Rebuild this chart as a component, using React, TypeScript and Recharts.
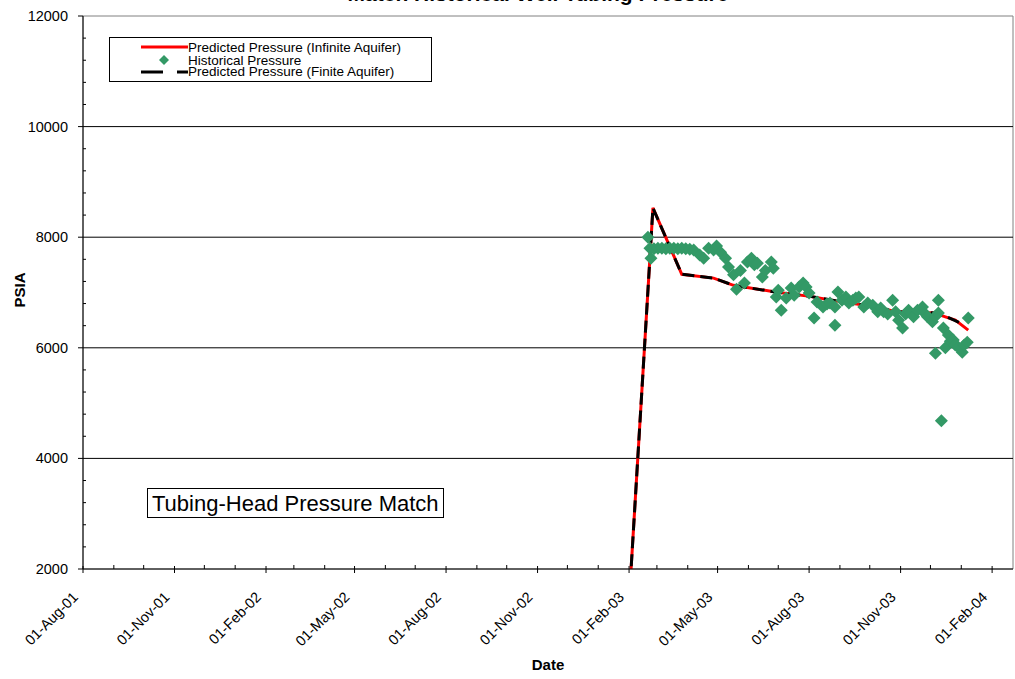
import React from "react";
import {
  ComposedChart,
  Line,
  Scatter,
  XAxis,
  YAxis,
  ReferenceLine,
  ReferenceArea,
} from "recharts";

// day offsets are counted from the axis start, 01-Aug-01
const START = Date.UTC(2001, 7, 1);
const toDay = (d: string) => (Date.parse(d) - START) / 86400000;

const xTickDates = [
  "2001-08-01", "2001-11-01", "2002-02-01", "2002-05-01", "2002-08-01", "2002-11-01",
  "2003-02-01", "2003-05-01", "2003-08-01", "2003-11-01", "2004-02-01",
];
const xTickLabels = [
  "01-Aug-01", "01-Nov-01", "01-Feb-02", "01-May-02", "01-Aug-02", "01-Nov-02",
  "01-Feb-03", "01-May-03", "01-Aug-03", "01-Nov-03", "01-Feb-04",
];
const xEndDate = "2004-02-22";
const yMajorTicks = [2000, 4000, 6000, 8000, 10000, 12000];
const yGridLines = [4000, 6000, 8000, 10000];

const infiniteDates = [
  "2003-02-01", "2003-02-25", "2003-03-26", "2003-04-27", "2003-05-17", "2003-06-28",
  "2003-08-02", "2003-08-24", "2003-10-06", "2003-10-29", "2003-12-05", "2003-12-16",
  "2003-12-26", "2004-01-08",
];
const infinitePsia = [1400, 8530, 7330, 7260, 7130, 7010, 6930, 6860, 6740, 6650, 6630, 6560, 6500, 6320];

const finiteDates = [
  "2003-02-01", "2003-02-25", "2003-03-26", "2003-04-27", "2003-05-17", "2003-06-28",
  "2003-08-02", "2003-08-24", "2003-10-06", "2003-10-29", "2003-12-05", "2003-12-16",
  "2003-12-31",
];
const finitePsia = [1400, 8530, 7330, 7260, 7130, 7010, 6930, 6860, 6740, 6650, 6630, 6570, 6450];

const histDates = [
  "2003-02-20", "2003-02-23", "2003-02-22", "2003-02-26", "2003-03-02", "2003-03-06",
  "2003-03-10", "2003-03-14", "2003-03-18", "2003-03-22", "2003-03-26", "2003-03-30",
  "2003-04-03", "2003-04-07", "2003-04-13", "2003-04-17", "2003-04-22", "2003-04-27",
  "2003-04-30", "2003-05-04", "2003-05-09", "2003-05-12", "2003-05-17", "2003-05-20",
  "2003-05-24", "2003-05-28", "2003-05-31", "2003-06-04", "2003-06-07", "2003-06-10",
  "2003-06-15", "2003-06-18", "2003-06-24", "2003-06-26", "2003-06-29", "2003-07-01",
  "2003-07-04", "2003-07-09", "2003-07-14", "2003-07-17", "2003-07-22", "2003-07-26",
  "2003-07-29", "2003-08-01", "2003-08-06", "2003-08-09", "2003-08-15", "2003-08-19",
  "2003-08-22", "2003-08-27", "2003-08-27", "2003-08-30", "2003-09-03", "2003-09-07",
  "2003-09-10", "2003-09-14", "2003-09-17", "2003-09-20", "2003-09-25", "2003-09-29",
  "2003-10-04", "2003-10-09", "2003-10-12", "2003-10-15", "2003-10-19", "2003-10-24",
  "2003-10-27", "2003-10-30", "2003-11-03", "2003-11-06", "2003-11-09", "2003-11-14",
  "2003-11-18", "2003-11-23", "2003-11-26", "2003-11-28", "2003-12-03", "2003-12-06",
  "2003-12-06", "2003-12-09", "2003-12-09", "2003-12-12", "2003-12-14", "2003-12-16",
  "2003-12-19", "2003-12-21", "2003-12-24", "2003-12-26", "2003-12-29", "2004-01-02",
  "2004-01-04", "2004-01-07", "2004-01-08",
];
const histPsia = [
  8000, 7620, 7800, 7790, 7800, 7800,
  7790, 7800, 7800, 7790, 7800, 7790,
  7780, 7770, 7680, 7620, 7800, 7770,
  7840, 7730, 7620, 7460, 7320, 7060,
  7400, 7170, 7550, 7620, 7500, 7530,
  7280, 7400, 7550, 7440, 6920, 7040,
  6680, 6900, 7080, 6950, 7100, 7170,
  7100, 6990, 6540, 6830, 6740, 6790,
  6810, 6410, 6740, 7010, 6860, 6920,
  6810, 6860, 6900, 6920, 6740, 6810,
  6770, 6650, 6720, 6650, 6610, 6860,
  6650, 6500, 6360, 6610, 6680, 6560,
  6680, 6740, 6610, 6560, 6470, 6570,
  5900, 6860, 6630, 4680, 6360, 6000,
  6230, 6120, 6140, 6050, 6010, 5920,
  6050, 6100, 6540,
];

const infiniteData = infiniteDates.map((d, i) => ({ day: toDay(d), psia: infinitePsia[i] }));
const finiteData = finiteDates.map((d, i) => ({ day: toDay(d), psia: finitePsia[i] }));
const histData = histDates.map((d, i) => ({ day: toDay(d), psia: histPsia[i] }));

const majorDays = xTickDates.map(toDay);
const xEnd = toDay(xEndDate);
const xTicks: number[] = [];
for (let m = 0; ; m++) {
  const d = (Date.UTC(2001, 7 + m, 1) - START) / 86400000;
  if (d > xEnd) break;
  xTicks.push(d);
}
const yTicks: number[] = [];
for (let v = 2000; v <= 12000; v += 400) yTicks.push(v);

const FONT = "'Liberation Sans', Arial, sans-serif";
const GREEN = "#339966";

const XTick = ({ x, y, payload }: any) => {
  const i = majorDays.indexOf(payload.value);
  if (i < 0) return <line x1={x} x2={x} y1={y - 4} y2={y} stroke="#000" />;
  const tx = x - 4;
  const ty = y + 29;
  return (
    <g>
      <line x1={x} x2={x} y1={y - 3} y2={y + 4} stroke="#000" />
      <text
        x={tx}
        y={ty}
        transform={`rotate(-45 ${tx} ${ty})`}
        textAnchor="end"
        fontSize={14.5}
        fontFamily={FONT}
        fill="#000"
      >
        {xTickLabels[i]}
      </text>
    </g>
  );
};

const YTick = ({ x, y, payload }: any) => {
  if (!yMajorTicks.includes(payload.value))
    return <line x1={x} x2={x + 3} y1={y} y2={y} stroke="#000" />;
  return (
    <g>
      <line x1={x - 5} x2={x} y1={y} y2={y} stroke="#000" />
      <text x={x - 15} y={y + 5} textAnchor="end" fontSize={14.5} fontFamily={FONT} fill="#000">
        {payload.value}
      </text>
    </g>
  );
};

const Diamond = ({ cx, cy }: any) => (
  <polygon
    points={`${cx},${cy - 6.5} ${cx + 6.5},${cy} ${cx},${cy + 6.5} ${cx - 6.5},${cy}`}
    fill={GREEN}
  />
);

export default function App() {
  return (
    <div
      style={{
        position: "absolute",
        left: 0,
        top: 0,
        width: 1015,
        height: 679,
        background: "#fff",
        fontFamily: FONT,
        overflow: "hidden",
      }}
    >
      <div
        style={{
          position: "absolute",
          left: 0,
          width: 1076,
          top: -18,
          textAlign: "center",
          fontWeight: "bold",
          fontSize: 21,
          lineHeight: "24px",
        }}
      >
        Match Historical Well Tubing Pressure
      </div>

      <ComposedChart
        width={1015}
        height={679}
        margin={{ top: 16, right: 2, bottom: 0, left: 0 }}
      >
        <XAxis
          type="number"
          dataKey="day"
          domain={[0, xEnd]}
          allowDataOverflow
          ticks={xTicks}
          interval={0}
          tick={<XTick />}
          tickLine={false}
          tickSize={0}
          tickMargin={0}
          height={110}
          axisLine={{ stroke: "#000" }}
        />
        <YAxis
          type="number"
          dataKey="psia"
          domain={[2000, 12000]}
          allowDataOverflow
          ticks={yTicks}
          interval={0}
          tick={<YTick />}
          tickLine={false}
          tickSize={0}
          tickMargin={0}
          width={83}
          axisLine={{ stroke: "#000" }}
        />
        <ReferenceArea
          x1={0}
          x2={xEnd}
          y1={2000}
          y2={12000}
          fill="none"
          stroke="#808080"
          strokeWidth={1}
        />
        {yGridLines.map((v) => (
          <ReferenceLine key={v} y={v} stroke="#000" strokeWidth={1} />
        ))}
        <Line
          data={infiniteData}
          dataKey="psia"
          type="linear"
          stroke="#ff0000"
          strokeWidth={3}
          dot={false}
          isAnimationActive={false}
        />
        <Line
          data={finiteData}
          dataKey="psia"
          type="linear"
          stroke="#000"
          strokeWidth={3}
          strokeDasharray="12 6"
          dot={false}
          isAnimationActive={false}
        />
        <Scatter data={histData} dataKey="psia" shape={<Diamond />} isAnimationActive={false} />
      </ComposedChart>

      <div
        style={{
          position: "absolute",
          left: 109,
          top: 37,
          width: 321,
          height: 43,
          border: "1px solid #000",
          background: "#fff",
        }}
      >
        <svg width={321} height={43} style={{ position: "absolute", left: 0, top: 0 }}>
          <line x1={31} x2={78} y1={9} y2={9} stroke="#ff0000" strokeWidth={3} />
          <polygon points="54,17 59,22 54,27 49,22" fill={GREEN} />
          <line x1={31} x2={53} y1={34} y2={34} stroke="#000" strokeWidth={3} />
          <line x1={67} x2={78} y1={34} y2={34} stroke="#000" strokeWidth={3} />
          <text x={78} y={13.5} fontSize={13.5} fontFamily={FONT}>
            Predicted Pressure (Infinite Aquifer)
          </text>
          <text x={78} y={26.5} fontSize={13.5} fontFamily={FONT}>
            Historical Pressure
          </text>
          <text x={78} y={38} fontSize={13.5} fontFamily={FONT}>
            Predicted Pressure (Finite Aquifer)
          </text>
        </svg>
      </div>

      <div
        style={{
          position: "absolute",
          left: 147,
          top: 488,
          width: 297,
          height: 30,
          border: "1px solid #000",
          background: "#fff",
          fontSize: 22,
          lineHeight: "30px",
          paddingLeft: 4,
          boxSizing: "border-box",
          whiteSpace: "nowrap",
        }}
      >
        Tubing-Head Pressure Match
      </div>

      <div
        style={{
          position: "absolute",
          left: 19,
          top: 290,
          transform: "translate(-50%, -50%) rotate(-90deg)",
          fontWeight: "bold",
          fontSize: 15,
        }}
      >
        PSIA
      </div>
      <div
        style={{
          position: "absolute",
          left: 548,
          top: 656,
          transform: "translateX(-50%)",
          fontWeight: "bold",
          fontSize: 15,
        }}
      >
        Date
      </div>
    </div>
  );
}
